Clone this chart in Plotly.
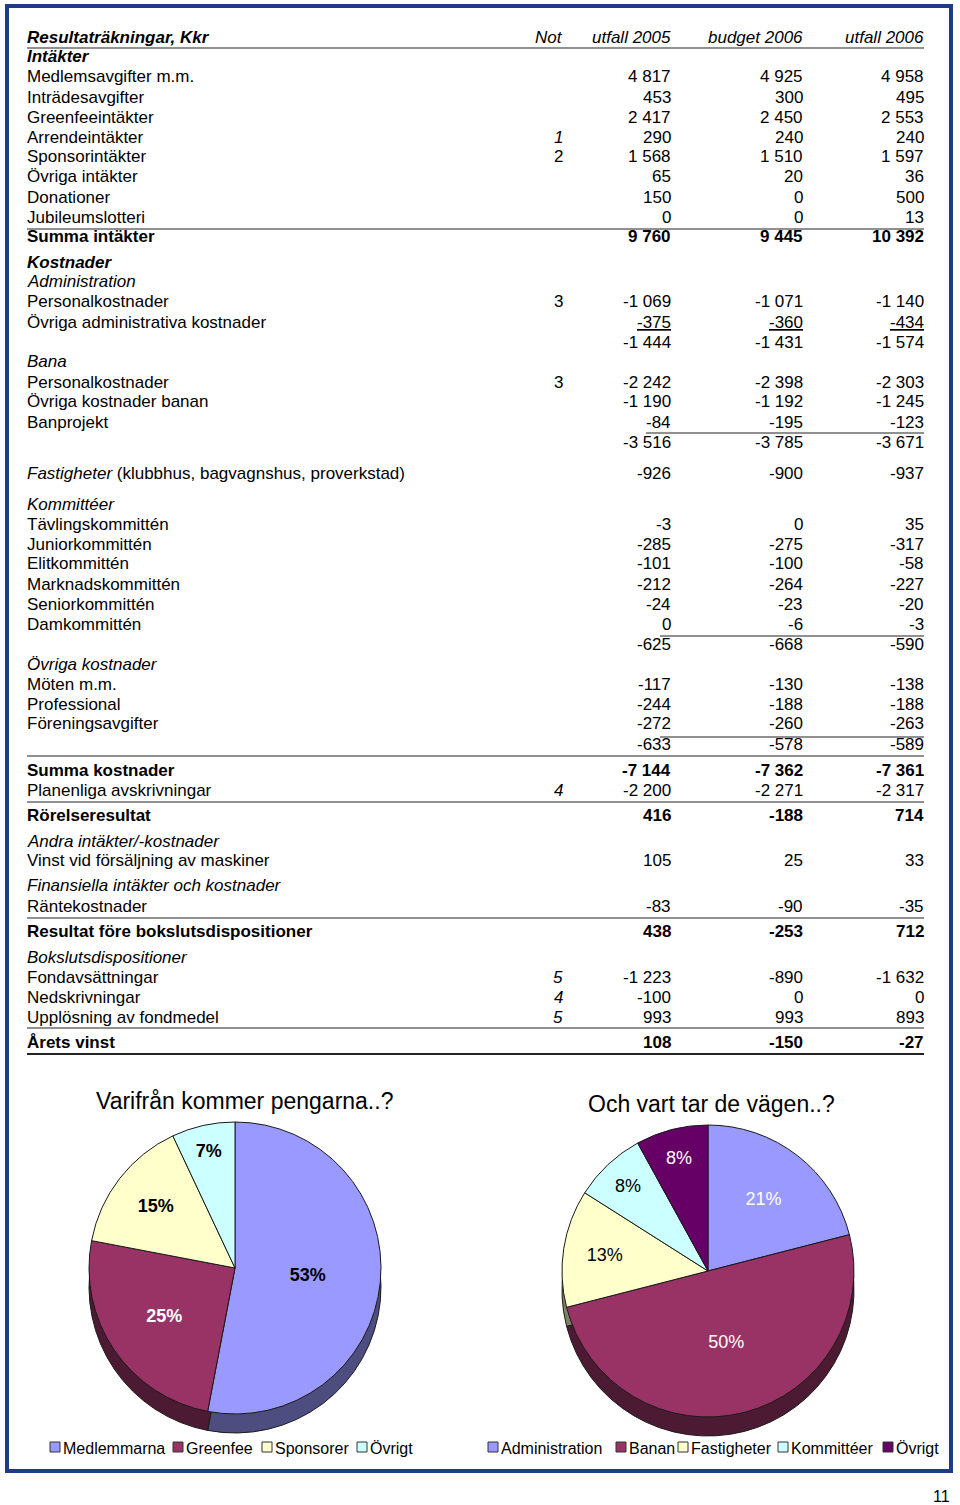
import plotly.graph_objects as go

W, H = 960, 1505
FONT = "Liberation Sans, Arial, sans-serif"

# ---------------------------------------------------------------- data
table_title = "Resultaträkningar, Kkr"
col_headers = ["Not", "utfall 2005", "budget 2006", "utfall 2006"]

row_labels = [
    "Intäkter",
    "Medlemsavgifter m.m.",
    "Inträdesavgifter",
    "Greenfeeintäkter",
    "Arrendeintäkter",
    "Sponsorintäkter",
    "Övriga intäkter",
    "Donationer",
    "Jubileumslotteri",
    "Summa intäkter",
    "Kostnader",
    "Administration",
    "Personalkostnader",
    "Övriga administrativa kostnader",
    "",
    "Bana",
    "Personalkostnader",
    "Övriga kostnader banan",
    "Banprojekt",
    "",
    "Fastigheter (klubbhus, bagvagnshus, proverkstad)",
    "Kommittéer",
    "Tävlingskommittén",
    "Juniorkommittén",
    "Elitkommittén",
    "Marknadskommittén",
    "Seniorkommittén",
    "Damkommittén",
    "",
    "Övriga kostnader",
    "Möten m.m.",
    "Professional",
    "Föreningsavgifter",
    "",
    "Summa kostnader",
    "Planenliga avskrivningar",
    "Rörelseresultat",
    "Andra intäkter/-kostnader",
    "Vinst vid försäljning av maskiner",
    "Finansiella intäkter och kostnader",
    "Räntekostnader",
    "Resultat före bokslutsdispositioner",
    "Bokslutsdispositioner",
    "Fondavsättningar",
    "Nedskrivningar",
    "Upplösning av fondmedel",
    "Årets vinst",
]

row_notes = ["", "", "", "", "1", "2", "", "", "", "", "", "", "3", "", "", "",
             "3", "", "", "", "", "", "", "", "", "", "", "", "", "", "", "",
             "", "", "", "4", "", "", "", "", "", "", "", "5", "4", "5", ""]

utfall_2005 = [None, 4817, 453, 2417, 290, 1568, 65, 150, 0, 9760,
               None, None, -1069, -375, -1444, None, -2242, -1190, -84, -3516,
               -926, None, -3, -285, -101, -212, -24, 0, -625,
               None, -117, -244, -272, -633, -7144, -2200, 416,
               None, 105, None, -83, 438, None, -1223, -100, 993, 108]

budget_2006 = [None, 4925, 300, 2450, 240, 1510, 20, 0, 0, 9445,
               None, None, -1071, -360, -1431, None, -2398, -1192, -195, -3785,
               -900, None, 0, -275, -100, -264, -23, -6, -668,
               None, -130, -188, -260, -578, -7362, -2271, -188,
               None, 25, None, -90, -253, None, -890, 0, 993, -150]

utfall_2006 = [None, 4958, 495, 2553, 240, 1597, 36, 500, 13, 10392,
               None, None, -1140, -434, -1574, None, -2303, -1245, -123, -3671,
               -937, None, 35, -317, -58, -227, -20, -3, -590,
               None, -138, -188, -263, -589, -7361, -2317, 714,
               None, 33, None, -35, 712, None, -1632, 0, 893, -27]

income_labels = ["Medlemmarna", "Greenfee", "Sponsorer", "Övrigt"]
income_share = [53, 25, 15, 7]
cost_labels = ["Administration", "Banan", "Fastigheter", "Kommittéer", "Övrigt"]
cost_share = [21, 50, 13, 8, 8]

income_title = "Varifrån kommer pengarna..?"
cost_title = "Och vart tar de vägen..?"
page_number = "11"

# ---------------------------------------------------------------- layout / styles
row_y = [57, 77, 97, 117, 137, 157, 177, 197, 217, 237,
         262, 282, 302, 322, 342, 362, 382, 402, 422, 443,
         473, 504, 524, 544, 564, 584, 604, 624, 644,
         664, 684, 704, 724, 744, 770, 790, 815,
         841, 861, 886, 906, 931, 957, 977, 997, 1017, 1042]

# H=bold italic heading, I=italic, N=normal, B=bold total, U=underlined numbers, F=partly italic
row_style = ["H", "N", "N", "N", "N", "N", "N", "N", "N", "B",
             "H", "I", "N", "U", "N", "I", "N", "N", "N", "N",
             "F", "I", "N", "N", "N", "N", "N", "N", "N",
             "I", "N", "N", "N", "N", "B", "N", "B",
             "I", "N", "I", "N", "B", "I", "N", "N", "N", "B"]
italic_notes = {"1", "4", "5"}

assert len(row_labels) == len(row_notes) == len(utfall_2005) == len(budget_2006) \
    == len(utfall_2006) == len(row_y) == len(row_style)

LABEL_X = 27
COL_RIGHT = [563, 671, 803, 924]
TXT_SIZE = 17

# (y, x0, x1, width)
rules = [(48, 27, 924, 1.2), (229, 27, 924, 1.2), (433, 646, 924, 1.2),
         (636, 660, 924, 1.2), (737, 660, 924, 1.2), (756, 27, 924, 1.2),
         (802, 27, 924, 1.2), (918, 27, 924, 1.2), (1028, 27, 924, 1.2),
         (1054, 27, 924, 2.2)]

income_colors = ["#9999FF", "#993366", "#FFFFCC", "#CCFFFF"]
income_side = ["#4D4D80", "#4D1A33", "#808066", "#668080"]
income_text_colors = ["#000000", "#FFFFFF", "#000000", "#000000"]
cost_colors = ["#9999FF", "#993366", "#FFFFCC", "#CCFFFF", "#660066"]
cost_side = ["#4D4D80", "#4D1A33", "#808066", "#668080", "#330033"]
cost_text_colors = ["#FFFFFF", "#FFFFFF", "#000000", "#000000", "#FFFFFF"]

PIE_R = 146
PIE_DEPTH = 19
income_center = (235, 1268)
cost_center = (708, 1271)

income_legend_x = [50, 173, 262, 357]
cost_legend_x = [488, 616, 678, 778, 883]
LEGEND_Y = 1447
LEGEND_SIZE = 16


def X(px):
    return px / W


def Y(py):
    return 1 - py / H


def fmt(v):
    if v is None:
        return ""
    s = f"{abs(v):,}".replace(",", " ")
    return ("-" if v < 0 else "") + s


annotations = []


def txt(x, y, s, anchor="left", size=TXT_SIZE, color="#000000"):
    annotations.append(dict(
        x=X(x), y=Y(y), xref="paper", yref="paper", text=s, showarrow=False,
        xanchor=anchor, yanchor="middle", borderpad=0, borderwidth=0,
        font=dict(family=FONT, size=size, color=color)))


shapes = []

# header
txt(LABEL_X, 37, f"<b><i>{table_title}</i></b>")
for h, xr in zip(col_headers, COL_RIGHT):
    txt(xr, 37, f"<i>{h}</i>", anchor="right")

for lab, note, a, b, c, y, st in zip(row_labels, row_notes, utfall_2005, budget_2006,
                                      utfall_2006, row_y, row_style):
    if lab:
        if st == "H":
            s = f"<b><i>{lab}</i></b>"
        elif st == "I":
            s = f"<i>{lab}</i>"
        elif st == "B":
            s = f"<b>{lab}</b>"
        elif st == "F":
            first, rest = lab.split(" ", 1)
            s = f"<i>{first}</i> {rest}"
        else:
            s = lab
        txt(LABEL_X, y, s)
    if note:
        txt(COL_RIGHT[0], y, f"<i>{note}</i>" if note in italic_notes else note, anchor="right")
    for v, xr in zip((a, b, c), COL_RIGHT[1:]):
        if v is None:
            continue
        s = fmt(v)
        if st == "B":
            s = f"<b>{s}</b>"
        elif st == "U":
            s = f"<u>{s}</u>"
        txt(xr, y, s, anchor="right")

for (y, x0, x1, w) in rules:
    shapes.append(dict(type="line", xref="paper", yref="paper",
                       x0=X(x0), x1=X(x1), y0=Y(y), y1=Y(y),
                       line=dict(color="#222222", width=w)))

# page frame
shapes.append(dict(type="rect", xref="paper", yref="paper",
                   x0=X(7), x1=X(951), y0=Y(6), y1=Y(1471),
                   line=dict(color="#1F3A8A", width=4), layer="below"))


def domain(cx, cy, r):
    return dict(x=[X(cx - r), X(cx + r)], y=[Y(cy + r), Y(cy - r)])


fig = go.Figure()


def add_pie(labels, values, colors, side, text_colors, center, bold):
    cx, cy = center
    # extruded side of the 3D pie
    fig.add_trace(go.Pie(
        labels=labels, values=values, sort=False, direction="clockwise", rotation=0,
        domain=domain(cx, cy + PIE_DEPTH, PIE_R),
        marker=dict(colors=side, line=dict(color="#1A1A1A", width=1)),
        textinfo="none", hoverinfo="skip", showlegend=False))
    tmpl = "<b>%{percent:.0%}</b>" if bold else "%{percent:.0%}"
    fig.add_trace(go.Pie(
        labels=labels, values=values, sort=False, direction="clockwise", rotation=0,
        domain=domain(cx, cy, PIE_R),
        marker=dict(colors=colors, line=dict(color="#1A1A1A", width=1)),
        texttemplate=tmpl, textposition="inside", insidetextorientation="horizontal",
        textfont=dict(family=FONT, size=18, color=text_colors),
        showlegend=False))


add_pie(income_labels, income_share, income_colors, income_side, income_text_colors,
        income_center, True)
add_pie(cost_labels, cost_share, cost_colors, cost_side, cost_text_colors,
        cost_center, False)

txt(245, 1101, income_title, anchor="center", size=23)
txt(711, 1104, cost_title, anchor="center", size=23)


def legend(labels, colors, xs):
    for lab, col, x0 in zip(labels, colors, xs):
        shapes.append(dict(type="rect", xref="paper", yref="paper",
                           x0=X(x0), x1=X(x0 + 10), y0=Y(LEGEND_Y + 5), y1=Y(LEGEND_Y - 5),
                           fillcolor=col, line=dict(color="#333333", width=1)))
        txt(x0 + 13, LEGEND_Y + 1, lab, size=LEGEND_SIZE)


legend(income_labels, income_colors, income_legend_x)
legend(cost_labels, cost_colors, cost_legend_x)

txt(950, 1496, page_number, anchor="right", size=16)

fig.update_layout(
    width=W, height=H, margin=dict(l=0, r=0, t=0, b=0),
    paper_bgcolor="white", plot_bgcolor="white",
    showlegend=False, annotations=annotations, shapes=shapes,
)

fig.write_html("out.html", config={"displayModeBar": False},
               post_script="document.body.style.margin='0';document.body.style.padding='0';")
